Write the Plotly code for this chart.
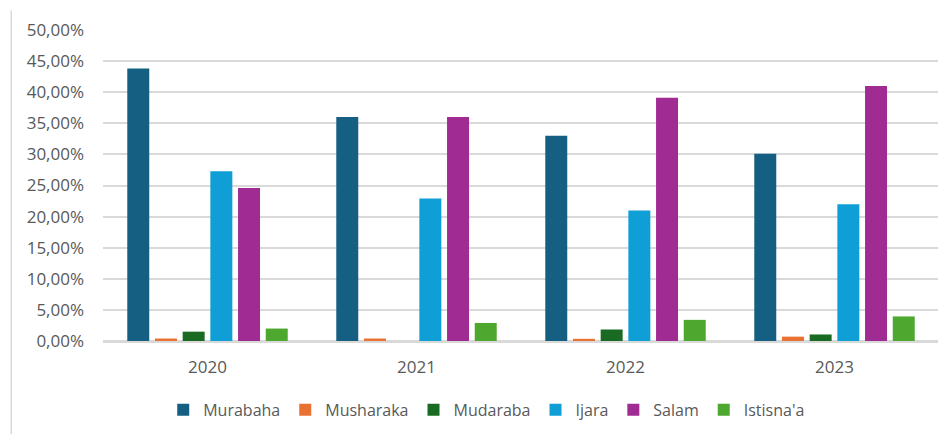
import plotly.graph_objects as go

years = ["2020", "2021", "2022", "2023"]
murabaha = [0.438, 0.360, 0.330, 0.301]
musharaka = [0.004, 0.004, 0.0035, 0.007]
mudaraba = [0.015, 0.0, 0.0185, 0.0105]
ijara = [0.273, 0.229, 0.210, 0.220]
salam = [0.246, 0.360, 0.391, 0.410]
istisna = [0.020, 0.029, 0.034, 0.0395]

series = [
    ("Murabaha", murabaha, "#156082"),
    ("Musharaka", musharaka, "#E97132"),
    ("Mudaraba", mudaraba, "#196B24"),
    ("Ijara", ijara, "#0F9ED5"),
    ("Salam", salam, "#A02B93"),
    ("Istisna'a", istisna, "#4EA72E"),
]

fig = go.Figure()
for name, vals, color in series:
    fig.add_trace(go.Bar(
        name=name, x=years, y=vals,
        marker=dict(color=color, line=dict(width=0)),
    ))

font_family = "Open Sans"
text_color = "#595959"
grid_color = "#d9d9d9"

# page body has an 8px margin: shrink the figure so the plot lands where the reference has it
fig.update_layout(
    width=938, height=426,
    margin=dict(l=94.7, r=7.3, t=21.5, b=86.5),
    paper_bgcolor="white", plot_bgcolor="white",
    barmode="group", bargap=0.205, bargroupgap=0.206,
    separators=",.",
    font=dict(family=font_family, size=17, color=text_color),
    showlegend=True,
    legend=dict(
        orientation="h", x=0.459, xanchor="center", y=-0.221, yanchor="middle",
        font=dict(family=font_family, size=16, color=text_color),
        itemwidth=30, traceorder="normal",
    ),
    xaxis=dict(
        showgrid=False, showline=True, linecolor=grid_color, linewidth=1.5,
        ticks="", ticklabelstandoff=10,
        tickfont=dict(family=font_family, size=17, color=text_color),
    ),
    yaxis=dict(
        range=[0, 0.5], dtick=0.05, tickformat=".2%",
        showgrid=True, gridcolor=grid_color, gridwidth=1.5,
        zeroline=True, zerolinecolor=grid_color, zerolinewidth=1.5,
        showline=False, ticks="", ticklabelstandoff=18,
        tickfont=dict(family=font_family, size=17, color=text_color),
    ),
    shapes=[dict(
        type="line", xref="paper", yref="paper",
        x0=(11 - 102.7) / 836, x1=(11 - 102.7) / 836,
        y0=(339.5 - 10) / 310, y1=(339.5 - 434) / 310,
        line=dict(color=grid_color, width=1.5),
    )],
)

fig.write_html("out.html")
